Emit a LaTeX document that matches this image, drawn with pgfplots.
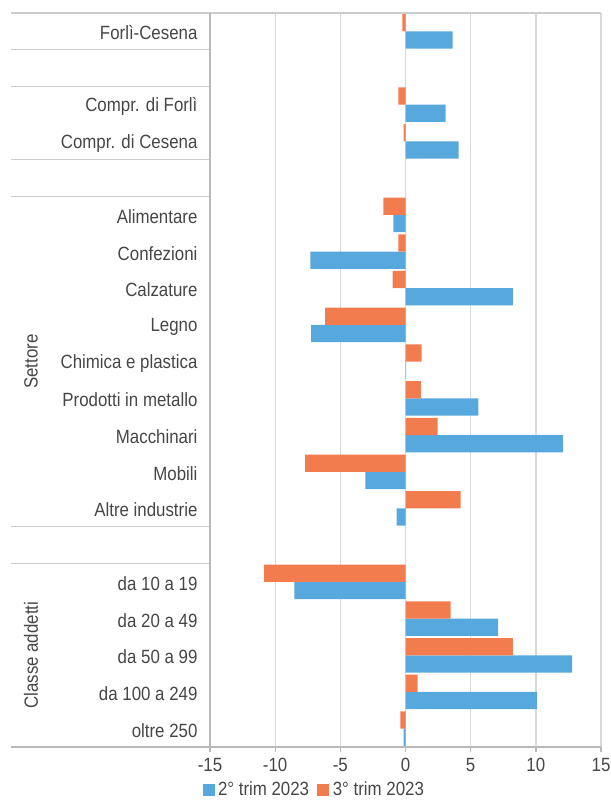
\documentclass[border=0pt]{standalone}
\usepackage{pgfplots}
\usepackage{pgfplotstable}
\pgfplotsset{compat=1.18}
\usepackage{fontspec}
\setmainfont{Liberation Sans}[FakeStretch=0.88]

\definecolor{bblue}{RGB}{87,169,221}
\definecolor{borange}{RGB}{243,124,79}
\definecolor{gridc}{RGB}{217,217,217}
\definecolor{sepc}{RGB}{205,205,205}
\definecolor{axc}{RGB}{185,185,185}
\definecolor{txt}{RGB}{70,70,70}

% y = row (0 at top), a = 2° trim 2023, b = 3° trim 2023
\pgfplotstableread{
y  a      b
0  3.62  -0.24
2  3.08  -0.54
3  4.07  -0.15
5  -0.93 -1.70
6  -7.30 -0.54
7  8.23  -0.99
8  -7.25 -6.17
9  0.05   1.23
10 5.60   1.17
11 12.10  2.46
12 -3.08 -7.70
13 -0.69  4.22
15 -8.53 -10.84
16 7.10   3.47
17 12.78  8.23
18 10.09  0.93
19 -0.15 -0.39
}\data

\newcommand{\lblfont}{\fontsize{11.5}{13}\selectfont}

\begin{document}
\begin{tikzpicture}
\useasboundingbox (0,0) rectangle (366pt,480.6pt);
\begin{axis}[
    at={(126pt,32.4pt)}, anchor=south west,
    scale only axis, width=234.6pt, height=440.4pt,
    xmin=-15, xmax=15, ymin=-0.5, ymax=19.5,
    y dir=reverse,
    xbar, bar width=0.47,
    axis line style={draw=none},
    clip=false,
    xtick={-15,-10,...,15},
    xticklabels={-15,-10,-5,0,5,10,15},
    xtick pos=lower,
    tick align=outside,
    major tick length=3pt,
    xtick style={axc, line width=0.8pt},
    xmajorgrids,
    grid style={gridc, line width=0.8pt},
    ytick={0,2,3,5,6,7,8,9,10,11,12,13,15,16,17,18,19},
    yticklabels={Forlì-Cesena,Compr. di Forlì,Compr. di Cesena,Alimentare,Confezioni,Calzature,Legno,Chimica e plastica,Prodotti in metallo,Macchinari,Mobili,Altre industrie,da 10 a 19,da 20 a 49,da 50 a 99,da 100 a 249,oltre 250},
    ytick style={draw=none},
    yticklabel style={font=\lblfont, text=txt, xshift=-1pt, yshift=-1pt},
    xticklabel style={font=\lblfont, text=txt},
    legend columns=2,
    legend style={draw=none, fill=none, font=\lblfont, text=txt,
        at={(0.2685,-0.0586)}, anchor=center,
        /tikz/every even column/.append style={column sep=3pt}},
    legend image code/.code={\fill[#1] (0pt,-3.6pt) rectangle (7.2pt,3.6pt);},
]
\addplot[fill=bblue, draw=none, bar shift=0.235] table[x=a, y=y] {\data};
\addlegendentry{2° trim 2023}
\addplot[fill=borange, draw=none, bar shift=-0.235] table[x=b, y=y] {\data};
\addlegendentry{3° trim 2023}

% separators of the category table
\draw[sepc, line width=0.8pt] ([xshift=-119.4pt]axis cs:-15,-0.5) -- (axis cs:15,-0.5);
\draw[sepc, line width=0.8pt] ([xshift=-119.4pt]axis cs:-15,0.5) -- (axis cs:-15,0.5);
\draw[sepc, line width=0.8pt] ([xshift=-119.4pt]axis cs:-15,1.5) -- (axis cs:-15,1.5);
\draw[sepc, line width=0.8pt] ([xshift=-119.4pt]axis cs:-15,3.5) -- (axis cs:-15,3.5);
\draw[sepc, line width=0.8pt] ([xshift=-119.4pt]axis cs:-15,4.5) -- (axis cs:-15,4.5);
\draw[sepc, line width=0.8pt] ([xshift=-119.4pt]axis cs:-15,13.5) -- (axis cs:-15,13.5);
\draw[sepc, line width=0.8pt] ([xshift=-119.4pt]axis cs:-15,14.5) -- (axis cs:-15,14.5);
\draw[axc, line width=0.8pt] ([xshift=-119.4pt]axis cs:-15,19.5) -- (axis cs:15,19.5);
\draw[axc, line width=0.8pt] (axis cs:-15,-0.5) -- (axis cs:-15,19.5);

\node[rotate=90, font=\lblfont, text=txt] at ([xshift=-107.4pt]axis cs:-15,9) {Settore};
\node[rotate=90, font=\lblfont, text=txt] at ([xshift=-107.4pt]axis cs:-15,17) {Classe addetti};
\end{axis}
\end{tikzpicture}
\end{document}
